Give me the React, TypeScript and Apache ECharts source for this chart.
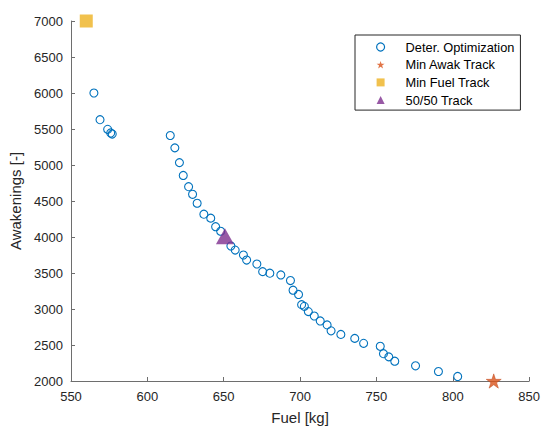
import React, { useEffect, useRef } from "react";
import * as echarts from "echarts";

const optFuel = [565, 569, 574, 576, 577, 615, 618, 621, 623.5, 627, 629.6, 632.6, 637, 641.5, 644.7, 648, 654.7, 657.5, 662.9, 665, 671.7, 675.5, 680.2, 687.4, 693.7, 695.4, 699, 701, 702.8, 705.4, 709.3, 713.2, 717.7, 720.3, 726.7, 735.8, 741.6, 752.5, 754.6, 758.1, 762, 775.6, 790.6, 803.2];
const optAwak = [6000, 5630, 5495, 5445, 5430, 5410, 5238, 5033, 4855, 4699, 4593, 4469, 4317, 4262, 4143, 4080, 3875, 3818, 3750, 3680, 3625, 3519, 3498, 3473, 3395, 3261, 3202, 3060, 3037, 2964, 2903, 2834, 2779, 2697, 2647, 2592, 2523, 2482, 2380, 2335, 2275, 2211, 2132, 2063];
const minAwakTrack = [826.8, 2000];
const minFuelTrack = [560, 7000];
const fiftyTrack = [650.8, 4010];

const seriesNames = ["Deter. Optimization", "Min Awak Track", "Min Fuel Track", "50/50 Track"];
const colors = ["#0072BD", "#D95319", "#EDB120", "#7E2F8E"];

const STAR =
  "path://M50 0 L61.23 34.55 L97.55 34.55 L68.17 55.9 L79.39 90.45 L50 69.1 L20.61 90.45 L31.83 55.9 L2.45 34.55 L38.77 34.55 Z";

const FONT = "'Liberation Sans', Arial, Helvetica, sans-serif";
const TXT = "#262626";
const AXC = "#6e6e6e";

export default function App() {
  const ref = useRef<HTMLDivElement>(null);
  useEffect(() => {
    if (!ref.current) return;
    const chart = echarts.init(ref.current, null, { renderer: "svg" });
    const optData = optFuel.map((x, i) => [x, optAwak[i]]);
    chart.setOption({
      animation: false,
      backgroundColor: "#fff",
      textStyle: { fontFamily: FONT },
      grid: { left: 71, right: 10, top: 21, bottom: 46, containLabel: false },
      xAxis: {
        type: "value",
        min: 550,
        max: 850,
        interval: 50,
        name: "Fuel [kg]",
        nameLocation: "middle",
        nameGap: 29,
        nameTextStyle: { color: TXT, fontSize: 15, fontFamily: FONT },
        axisLine: { show: true, lineStyle: { color: AXC, width: 1 } },
        axisTick: { show: true, inside: true, length: 4, lineStyle: { color: AXC } },
        axisLabel: { color: TXT, fontSize: 13, margin: 9, fontFamily: FONT, formatter: (v: number) => String(v) },
        splitLine: { show: false },
      },
      yAxis: {
        type: "value",
        min: 2000,
        max: 7000,
        interval: 500,
        name: "Awakenings [-]",
        nameLocation: "middle",
        nameGap: 43,
        nameTextStyle: { color: TXT, fontSize: 15, fontFamily: FONT },
        axisLine: { show: true, lineStyle: { color: AXC, width: 1 } },
        axisTick: { show: true, inside: true, length: 4, lineStyle: { color: AXC } },
        axisLabel: { color: TXT, fontSize: 13, margin: 8, fontFamily: FONT, formatter: (v: number) => String(v) },
        splitLine: { show: false },
      },
      legend: {
        orient: "vertical",
        left: 355,
        top: 35,
        padding: [5, 6, 3, 21],
        itemGap: 3.7,
        itemWidth: 8,
        itemHeight: 8,
        borderColor: TXT,
        borderWidth: 1,
        borderRadius: 0,
        backgroundColor: "#fff",
        textStyle: { color: "#000", fontSize: 12.8, lineHeight: 14, fontFamily: FONT, padding: [0, 0, 0, 16] },
        data: [
          { name: seriesNames[0], icon: "circle", itemStyle: { color: "#fff", borderColor: colors[0], borderWidth: 1.2 } },
          { name: seriesNames[1], icon: STAR, itemStyle: { color: colors[1], borderWidth: 0 } },
          { name: seriesNames[2], icon: "rect", itemStyle: { color: colors[2], borderWidth: 0 } },
          { name: seriesNames[3], icon: "triangle", itemStyle: { color: colors[3], borderWidth: 0 } },
        ],
      },
      series: [
        {
          name: seriesNames[0],
          type: "scatter",
          data: optData,
          symbol: "circle",
          symbolSize: 8,
          clip: false,
          itemStyle: { color: "rgba(255,255,255,0)", borderColor: colors[0], borderWidth: 1.1, opacity: 1 },
          z: 2,
        },
        {
          name: seriesNames[1],
          type: "scatter",
          data: [minAwakTrack],
          symbol: STAR,
          symbolKeepAspect: true,
          symbolSize: 15,
          clip: false,
          itemStyle: { color: colors[1], borderColor: "#c0461a", borderWidth: 0.6 },
          z: 3,
        },
        {
          name: seriesNames[2],
          type: "scatter",
          data: [minFuelTrack],
          symbol: "rect",
          symbolSize: 13,
          clip: false,
          itemStyle: { color: colors[2] },
          z: 3,
        },
        {
          name: seriesNames[3],
          type: "scatter",
          data: [fiftyTrack],
          symbol: "triangle",
          symbolSize: [18, 16],
          clip: false,
          itemStyle: { color: colors[3] },
          z: 3,
        },
      ],
    });
    return () => chart.dispose();
  }, []);
  return <div ref={ref} style={{ width: 543, height: 430, position: "absolute", left: 0, top: 0 }} />;
}
